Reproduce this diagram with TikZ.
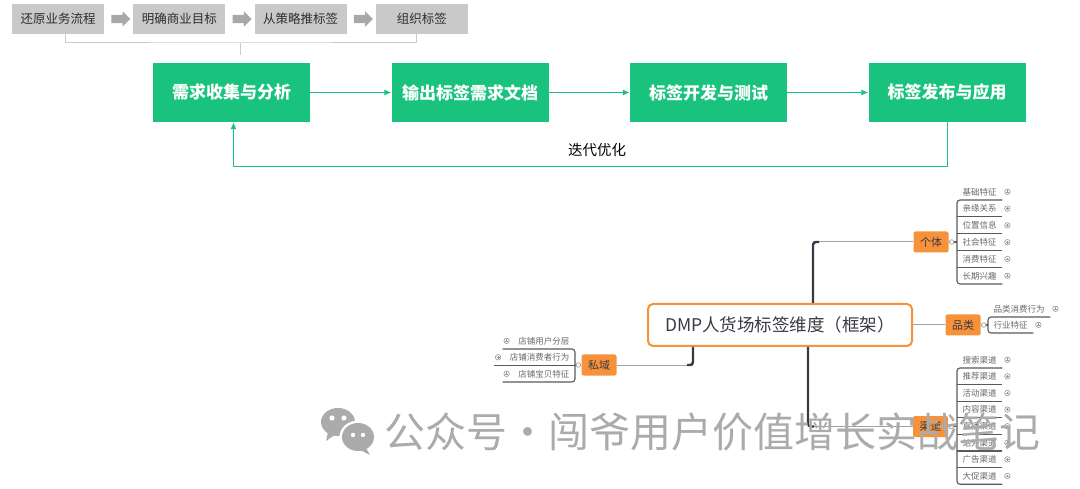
\documentclass[tikz,border=0pt]{standalone}
\usepackage{fontspec}
\setmainfont{Noto Sans CJK SC}
\usetikzlibrary{arrows.meta,shapes.arrows,calc}

\definecolor{stepgray}{HTML}{C9C9C9}
\definecolor{steptext}{HTML}{2E2E2E}
\definecolor{arrowgray}{HTML}{A8A8A8}
\definecolor{bracegray}{HTML}{CBCBCB}
\definecolor{taggreen}{HTML}{19C37D}
\definecolor{maporange}{HTML}{F7923A}
\definecolor{trunkdark}{HTML}{3A3A46}
\definecolor{branchgray}{HTML}{A3A3A3}
\definecolor{twiggray}{HTML}{5A5A5A}
\definecolor{leaftext}{HTML}{6A6A6A}
\definecolor{wmgray}{HTML}{ABABAB}

\begin{document}
\begin{tikzpicture}[x=1pt, y=-1pt, >={Latex[length=7pt,width=6pt]},
    stepbox/.style={fill=stepgray, text=steptext, minimum width=92pt, minimum height=30pt, inner sep=0pt, font=\fontsize{12.5}{15}\selectfont},
    steparrow/.style={single arrow, fill=arrowgray, draw=none, inner sep=4pt, minimum height=19pt, single arrow head extend=3.5pt},
    stage/.style={fill=taggreen, text=white, minimum width=157pt, minimum height=59pt, inner sep=0pt, font=\fontsize{17}{20}\selectfont\bfseries},
    flow/.style={draw=taggreen, line width=1pt},
    hub/.style={draw=maporange, line width=2pt, fill=white, rounded corners=5pt, minimum width=264pt, minimum height=42pt, text=trunkdark, font=\fontsize{17.5}{21}\selectfont},
    topic/.style={fill=maporange, rounded corners=2pt, minimum width=35pt, minimum height=21pt, inner sep=0pt, text=trunkdark, font=\fontsize{11}{13}\selectfont},
    trunk/.style={draw=trunkdark, line width=2.4pt, rounded corners=3pt},
    branch/.style={draw=branchgray, line width=1pt},
    twig/.style={draw=twiggray, line width=1.1pt},
    leaf/.style={text=leaftext, inner xsep=5.5pt, inner ysep=0pt, minimum height=16pt, font=\fontsize{8.5}{10}\selectfont},
    fold/.style={circle, draw=leaftext!70, line width=.6pt, minimum size=5.5pt, inner sep=0pt,
      path picture={\draw[leaftext!70, line width=.5pt]
        ([xshift=-1.4pt]path picture bounding box.center) -- ([xshift=1.4pt]path picture bounding box.center)
        ([yshift=-1.4pt]path picture bounding box.center) -- ([yshift=1.4pt]path picture bounding box.center);}},
    knob/.style={circle, draw=branchgray, fill=white, line width=.7pt, minimum size=4.5pt, inner sep=0pt},
    watermark/.style={text=wmgray, font=\fontsize{41}{46}\selectfont}]

  \fill[white] (0,0) rectangle (1080,489);
  \useasboundingbox (0,0) rectangle (1080,489);

  % steps
  \foreach \t [count=\i] in {还原业务流程,明确商业目标,从策略推标签,组织标签}
  \node[stepbox] (s-\i) at (58+121.3*\i-121.3,19) {\t};

  \foreach \i [count=\j from 2] in {1,2,3}
  \node[steparrow] (sa-\i) at ($(s-\i.east)!.5!(s-\j.west)$) {};

  \coordinate (brace) at (240,43);
  \draw[bracegray, line width=1pt] ([xshift=7pt]s-1.south) |- (brace) -| ([xshift=-5pt]s-4.south);
  \draw[bracegray, line width=1pt] (brace) -- ++(0,12);

  % stages
  \foreach \t [count=\i] in {需求收集与分析,输出标签需求文档,标签开发与测试,标签发布与应用}
  \node[stage] (g-\i) at (231.5+238.5*\i-238.5,92.5) {\t};

  \foreach \i [count=\j from 2] in {1,2,3}
  \draw[flow,->] (g-\i) -- (g-\j);

  \draw[flow,->] (g-4.south) -- ++(0,44) -| ([xshift=2pt]g-1.south);
  \node[font=\fontsize{14.5}{17}\selectfont] (loop) at (597,150) {迭代优化};

  % mind map
  \node[hub] (dmp) at (780,325) {DMP人货场标签维度（框架）};
  \node[topic] (t-ind) at (931,242) {个体};
  \node[topic] (t-cat) at (963,325) {品类};
  \node[topic] (t-pri) at (599,365) {私域};
  \node[topic] (t-chn) at (930.5,426.5) {渠道};

  \coordinate (j-ind) at (813,242);
  \coordinate (j-pri) at (693,365);
  \coordinate (j-chn) at (808,426.5);
  \draw[branch] (j-ind) -- (t-ind);
  \draw[branch] (dmp) -- (t-cat);
  \draw[branch] (j-pri) -- (t-pri);
  \draw[branch] (j-chn) -- (t-chn);
  \draw[trunk] (dmp.north -| j-ind) |- ([xshift=6pt]j-ind);
  \draw[trunk] (dmp.south -| j-pri) |- ([xshift=-6pt]j-pri);
  \draw[trunk] (dmp.south -| j-chn) |- ([xshift=6pt]j-chn);

  % individual
  \foreach \t [count=\i] in {基础特征,亲缘关系,位置信息,社会特征,消费特征,长期兴趣}
  \node[leaf, anchor=south west] (ind-\i) at (957,200+16.8*\i-16.8) {\t};
  \foreach \i in {1,...,6}
  \node[fold] (ind-f\i) at ([xshift=5pt]ind-\i.east) {};
  \foreach \i in {2,...,5}
  \draw[twig] (ind-\i.south west) -- (ind-\i.south east);
  \draw[twig, rounded corners=3pt] (ind-1.south east) -- (ind-1.south west) -- (ind-6.south west) -- (ind-6.south east);
  \draw[twig] (t-ind) -- (t-ind -| ind-1.south west);
  \node[knob] (ind-k) at ([xshift=3pt]t-ind.east) {};

  % category
  \foreach \t [count=\i] in {品类消费行为,行业特征}
  \node[leaf, anchor=south west] (cat-\i) at (988,317+16*\i-16) {\t};
  \foreach \i in {1,2}
  \node[fold] (cat-f\i) at ([xshift=5pt]cat-\i.east) {};
  \draw[twig, rounded corners=3pt] (cat-1.south east) -- (cat-1.south west) -- (cat-2.south west) -- (cat-2.south east);
  \draw[twig] (t-cat) -- (t-cat -| cat-1.south west);
  \node[knob] (cat-k) at ([xshift=3pt]t-cat.east) {};

  % private domain
  \foreach \t [count=\i] in {店铺用户分层,店铺消费者行为,店铺宝贝特征}
  \node[leaf, anchor=south east] (pri-\i) at (575,349+16.5*\i-16.5) {\t};
  \foreach \i in {1,2,3}
  \node[fold] (pri-f\i) at ([xshift=-6pt]pri-\i.west) {};
  \draw[twig] (pri-2.south east) -- ([xshift=-10pt]pri-2.south west);
  \draw[twig, rounded corners=3pt] ([xshift=-10pt]pri-1.south west) -- (pri-1.south east) -- (pri-3.south east) -- ([xshift=-10pt]pri-3.south west);
  \draw[twig] (t-pri) -- (t-pri -| pri-1.south east);
  \node[knob] (pri-k) at ([xshift=-3pt]t-pri.west) {};

  % channel
  \foreach \t [count=\i] in {搜索渠道,推荐渠道,活动渠道,内容渠道,直播渠道,站外渠道,广告渠道,大促渠道}
  \node[leaf, anchor=south west] (chn-\i) at (957,368+16.6*\i-16.6) {\t};
  \foreach \i in {1,...,8}
  \node[fold] (chn-f\i) at ([xshift=5pt]chn-\i.east) {};
  \foreach \i in {2,...,7}
  \draw[twig] (chn-\i.south west) -- (chn-\i.south east);
  \draw[twig, rounded corners=3pt] (chn-1.south east) -- (chn-1.south west) -- (chn-8.south west) -- (chn-8.south east);
  \draw[twig] (t-chn) -- (t-chn -| chn-1.south west);
  \node[knob] (chn-k) at ([xshift=3pt]t-chn.east) {};

  % watermark
  \fill[wmgray] (338,422) ellipse (17 and 14);
  \fill[wmgray] (328,432) -- (326,441) -- (336,434) -- cycle;
  \fill[white] (358,437) ellipse (18.5 and 16.5);
  \fill[wmgray] (358,437) ellipse (16 and 14);
  \fill[wmgray] (366,448) -- (370,455) -- (360,450) -- cycle;
  \fill[white] (332,418) circle (2.6) (344,418) circle (2.6);
  \fill[white] (353,435) circle (2.2) (363,435) circle (2.2);
  \node[watermark, anchor=west] (wm) at (381,432) {公众号·闯爷用户价值增长实战笔记};
\end{tikzpicture}
\end{document}
